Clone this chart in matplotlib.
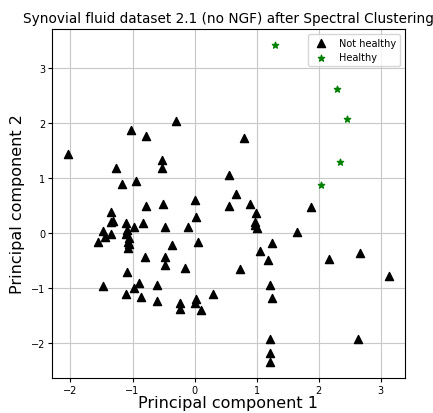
import matplotlib
matplotlib.use("Agg")
import matplotlib.pyplot as plt

# PCA coordinates
not_healthy_x = [
    -2.04, -1.03, -0.78, -0.30, 0.79, -1.27, -0.52, -0.52, -1.17, -0.94,
    0.55, 0.67, 0.00, -0.78, -0.51, 0.55, 0.90, -1.34, -1.34, -1.31,
    -1.10, -0.83, 0.02, -1.48, -1.09, -0.97, -0.47, -0.10, -1.45, -1.35,
    -1.10, -1.06, -1.55, -1.08, -1.06, -1.07, -0.37, 0.06, -0.80, -0.47,
    -0.47, -0.15, 0.73, -1.09, -1.48, -0.90, -0.98, -0.61, -1.11, -0.86,
    -0.61, -0.24, -0.24, 0.02, 0.00, 0.11, 0.30, 1.88, 0.99, 0.97,
    0.98, 1.01, 1.65, 1.24, 1.05, 1.19, 2.17, 2.66, 3.13, 1.21,
    1.25, 1.21, 1.21, 1.21, 2.64,
]
not_healthy_y = [
    1.44, 1.88, 1.76, 2.05, 1.74, 1.18, 1.33, 1.18, 0.90, 0.95,
    1.06, 0.71, 0.61, 0.49, 0.54, 0.49, 0.54, 0.38, 0.20, 0.23,
    0.18, 0.19, 0.29, 0.05, 0.06, 0.11, 0.11, 0.11, -0.07, -0.01,
    -0.02, -0.08, -0.16, -0.16, -0.20, -0.26, -0.22, -0.16, -0.43, -0.43,
    -0.58, -0.64, -0.65, -0.70, -0.96, -0.91, -1.00, -0.94, -1.11, -1.15,
    -1.24, -1.27, -1.37, -1.20, -1.27, -1.39, -1.11, 0.48, 0.37, 0.21,
    0.15, 0.09, 0.02, -0.18, -0.33, -0.49, -0.46, -0.35, -0.77, -0.94,
    -1.18, -1.93, -2.18, -2.34, -1.92,
]
healthy_x = [1.30, 2.30, 2.46, 2.34, 2.04]
healthy_y = [3.43, 2.63, 2.07, 1.29, 0.88]

fig = plt.figure(figsize=(4.33, 4.14), dpi=100)
ax = fig.add_axes([0.12, 0.085, 0.815, 0.843])

ax.scatter(not_healthy_x, not_healthy_y, marker="^", c="k", s=34,
           label="Not healthy", zorder=3)
ax.scatter(healthy_x, healthy_y, marker="*", c="g", s=22,
           label="Healthy", zorder=3)

ax.grid(True, color="#c8c8c8", linewidth=0.8)
ax.set_axisbelow(True)
ax.tick_params(labelsize=7, length=3, pad=2)
ax.set_title("Synovial fluid dataset 2.1 (no NGF) after Spectral Clustering",
             fontsize=9.8, pad=5)
ax.set_xlabel("Principal component 1", fontsize=11.5, labelpad=0)
ax.set_ylabel("Principal component 2", fontsize=11.5, labelpad=4)
ax.legend(loc="upper right", fontsize=7)

fig.savefig("out.png", dpi=100)
